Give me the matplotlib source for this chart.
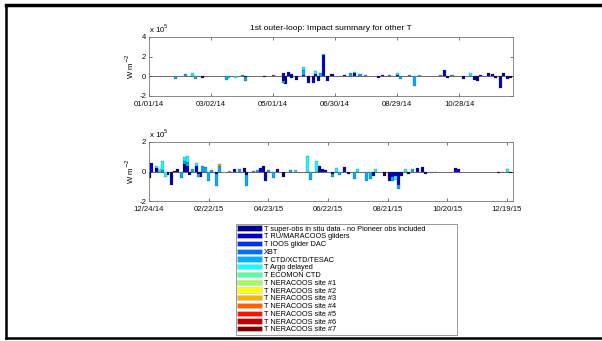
import numpy as np
import pandas as pd
import matplotlib
matplotlib.use("Agg")
import matplotlib.pyplot as plt
from matplotlib.patches import Patch
from matplotlib.lines import Line2D

plt.rcParams['font.family'] = ['Liberation Sans', 'DejaVu Sans']

# legend entries and their colours
categories = [
    "T super-obs in situ data - no Pioneer obs included",
    "T RU/MARACOOS gliders",
    "T IOOS glider DAC",
    "XBT",
    "T CTD/XCTD/TESAC",
    "T Argo delayed",
    "T ECOMON CTD",
    "T NERACOOS site #1",
    "T NERACOOS site #2",
    "T NERACOOS site #3",
    "T NERACOOS site #4",
    "T NERACOOS site #5",
    "T NERACOOS site #6",
    "T NERACOOS site #7",
]
colors = ["#000090", "#0000d0", "#0030ff", "#0070ff", "#00b0ff", "#10ffff",
          "#50ffa0", "#a0ff50", "#ffff00", "#ffb000", "#ff6000", "#ff1000",
          "#c00000", "#800000"]

SCALE = 1e5  # values below are in units of 1e5 W m-2

# ---- panel 1: 2014 (days since 01/01/14)
top_start = "2014-01-01"
top_ndays = 352
top_days = [26, 35, 42, 45, 52, 75, 77, 84, 90, 93, 112,
            120, 130, 132, 135, 138, 143, 149, 154, 159, 161, 164,
            166, 169, 173, 177, 189, 195, 199, 204, 209, 222, 226,
            233, 240, 243, 252, 257, 262, 282, 286, 289, 293, 304,
            311, 315, 318, 321, 328, 332, 335, 340, 343, 347, 350]
top_superobs = [0, 0, 0, 0, -0.15, 0, 0, 0, 0, -0.1, -0.1,
                0, -0.5, -0.8, 0, -0.2, -0.4, 0, -0.5, -0.4, 0, -0.3,
                0, 0, -0.3, 0.2, 0.1, 0, 0, 0, 0, 0, 0.1,
                0, 0.1, 0, 0, 0, 0, 0, 0.1, -0.2, 0, 0,
                0.05, -0.35, -0.45, 0, 0.35, 0, -0.2, -0.1, 0.3, 0, -0.2]
top_gliders = [0, 0, 0, 0, 0, 0, 0, 0, 0, 0, 0,
               0, 0.3, 0, 0.4, 0.2, 0, 0.1, -0.2, -0.3, 0.2, -0.2,
               0, 2.2, -0.2, 0, 0, 0, 0.3, 0, 0, -0.15, 0,
               0, 0, 0, 0, 0, 0, 0, 0.55, 0, 0, -0.3,
               0, 0, 0, 0.15, 0, 0.2, 0, -1.1, 0, -0.3, 0]
top_xbt = [0, 0, 0, 0, 0, 0, 0, 0, 0, 0, 0,
           0.1, 0, 0, 0, 0, 0, 0, 0, 0, 0, 0,
           0, 0, 0, 0, 0, 0, 0, 0, 0, 0, 0,
           0, 0, 0, 0, 0, 0, 0, 0, 0, 0, 0,
           0, 0, 0, 0, 0, 0, 0, 0, 0, 0, 0]
top_ctd = [-0.3, 0.2, 0, -0.3, 0, -0.35, -0.2, 0, 0.15, -0.4, 0,
           0, -0.2, 0, 0, 0, 0, 0.5, 0, 0, 0, 0,
           0.3, 0, 0, 0, 0, 0.3, 0, 0.2, 0.1, 0, 0,
           0.15, 0, -0.3, 0.1, -1.0, 0, 0.1, 0, 0, 0.1, 0,
           0, 0, 0, 0, 0, 0, 0, 0, 0, 0, 0]
top_argo = [0, 0, 0.3, 0, 0, 0, 0, -0.2, 0, 0, 0,
            0, 0, 0, 0, 0, 0, 0.35, 0, 0, 0.3, 0,
            0, 0.1, 0, 0, 0, 0, 0.15, 0, 0, 0, 0,
            0, 0.25, 0, 0, 0, 0.15, 0, 0, 0, 0, 0,
            0.3, 0, 0, 0, 0, 0, 0, 0, 0, 0, 0]

# ---- panel 2: 2015 (days since 12/24/14)
bot_start = "2014-12-24"
bot_ndays = 366
bot_days = [1, 3, 8, 11, 14, 17, 19, 23, 26, 29, 33, 36, 39,
            41, 44, 48, 50, 52, 54, 57, 60, 63, 68, 71, 76, 81,
            86, 91, 96, 98, 105, 109, 112, 115, 117, 120, 125, 129, 135,
            142, 147, 159, 162, 168, 171, 174, 177, 185, 189, 192, 197, 201,
            207, 210, 219, 223, 226, 228, 237, 242, 245, 248, 251, 254, 258,
            261, 265, 270, 275, 278, 284, 288, 308, 311, 351, 355, 360, 363]
bot_superobs = [-0.45, 0, 0.25, 0, 0, 0, -0.25, -0.5, 0.05, 0.2, 0, 0.5, 0,
                -0.25, 0, 0, -0.2, -0.35, 0, 0, 0, 0, -0.2, 0, 0, 0,
                0, 0, 0.25, -0.25, 0, 0, 0, 0.35, -0.2, 0, 0, 0, -0.35,
                0, 0, 0, 0, 0, 0.35, 0, 0.1, -0.15, 0, 0, 0, -0.2,
                0, 0, 0, 0, -0.3, 0, -0.3, -0.35, 0, -0.3, 0, -0.3, 0,
                -0.2, 0, 0, 0.3, -0.15, 0, 0, 0, 0, -0.1, -0.05, 0, -0.1]
bot_gliders = [0, 0.6, 0, 0, 0, 0, 0, -0.4, 0, 0, 0, 0, 0.35,
               0, 0, 0.4, 0, 0, 0, 0, 0, 0, 0, 0, 0, 0,
               0.2, 0, 0, 0, 0, 0, 0.25, 0, -0.45, 0, 0, 0.2, 0,
               0, 0, 0, 0, 0, 0, 0.2, 0, 0, 0, 0, 0.3, 0,
               0, 0, 0, 0, 0, 0, 0, -0.3, -0.4, 0, -0.9, 0, 0,
               0, 0, 0.25, 0, 0, 0, 0, 0.25, 0.2, 0, 0, 0, 0]
bot_ctd = [0, 0, 0, 0, 0.1, 0, 0, 0, 0, 0, -0.45, 0.2, 0.3,
           0, 0.15, 0, -0.2, 0, 0.35, 0.3, -0.65, 0.1, -0.75, 0.4, 0, 0,
           0, 0.2, 0, -0.7, 0.05, 0.1, 0, 0, 0, 0.1, -0.45, 0, 0,
           0.1, 0, 0, -0.55, 0, 0, 0, 0, -0.25, 0, -0.25, 0, 0,
           -0.5, 0, -0.65, -0.5, 0, 0, 0, 0, -0.25, 0, -0.3, 0, 0,
           0, 0.2, 0, 0, 0, -0.1, -0.05, 0, 0, 0, 0, 0, 0]
bot_argo = [0, 0, 0.15, 0.2, 0.6, -0.4, 0, 0, 0, 0, 0, 0.3, 0.4,
            0, 0, 0.2, 0, 0, 0, 0, 0, 0, 0, 0, -0.1, 0,
            0, 0, 0, 0, 0, 0, 0, 0, 0, 0, 0, 0, 0,
            0, 0.1, 1.05, 0, 0.7, 0, 0, 0, 0, 0.25, 0, 0, 0,
            0, 0.15, 0, 0, 0, 0.15, 0, 0, 0, -0.25, 0, 0, 0.2,
            0, 0, 0, 0, 0, 0, 0, 0, 0, 0, 0, 0.15, 0]
bot_site3 = [0, 0, 0, 0, 0, 0, 0, 0, 0, 0, 0, 0, 0,
             0, 0, 0, 0, 0, 0, 0, 0, 0, 0, 0.08, 0, 0.05,
             0, 0, 0, 0, 0, 0, 0, 0, 0, 0, 0, 0, 0,
             0, 0, 0, 0, 0, 0, 0, 0, 0, 0, 0, 0, 0,
             0, 0, 0, 0, 0, 0, 0, 0, 0, 0, 0, 0, 0,
             0, 0, 0, 0, 0, 0, 0, 0, 0, 0, 0, 0, 0]


def stacked_bars(ax, x, series, cols):
    pos = np.zeros(len(x))
    neg = np.zeros(len(x))
    for vals, c in zip(series, cols):
        v = np.asarray(vals, dtype=float) * SCALE
        m = v != 0
        bottom = np.where(v >= 0, pos, neg)
        ax.bar(x[m], v[m], width=3.0, bottom=bottom[m], color=c,
               edgecolor="#303030", linewidth=0.15, zorder=2)
        pos += np.clip(v, 0, None)
        neg += np.clip(v, None, 0)


def style_axis(ax, start, ndays, ylim, yticks):
    t0 = pd.Timestamp(start)
    ax.set_xlim(t0, t0 + pd.Timedelta(days=ndays))
    ticks = pd.date_range(t0, periods=ndays // 60 + 1, freq="60D")
    ax.set_xticks(ticks)
    ax.set_xticklabels([t.strftime("%m/%d/%y") for t in ticks])
    ax.set_ylim(ylim[0] * SCALE, ylim[1] * SCALE)
    ax.set_yticks([v * SCALE for v in yticks])
    ax.set_yticklabels([str(v) for v in yticks])
    ax.tick_params(direction="in", length=2.5, width=0.5, labelsize=5.6,
                   top=True, right=True, colors="#444444",
                   labelcolor="#111111")
    ax.tick_params(axis="x", pad=3.5)
    ax.tick_params(axis="y", pad=2)
    for s in ax.spines.values():
        s.set_linewidth(0.6)
        s.set_color("#777777")
    ax.axhline(0, color="#402828", linewidth=0.5, zorder=1)
    ax.set_ylabel(r"W m$^{-2}$", fontsize=5.6, labelpad=2)
    ax.text(0.0, 1.03, r"x 10$^5$", transform=ax.transAxes, fontsize=5.6,
            va="bottom", ha="left")


fig = plt.figure(figsize=(6.02, 3.41), dpi=100)
ax1 = fig.add_axes([149 / 602, 1 - 96 / 341, 364 / 602, 59 / 341])
ax2 = fig.add_axes([149 / 602, 1 - 201 / 341, 364 / 602, 59 / 341])

x1 = pd.Timestamp(top_start) + pd.to_timedelta(top_days, unit="D")
x1 = np.array(x1.to_pydatetime())
stacked_bars(ax1, x1,
             [top_superobs, top_gliders, top_xbt, top_ctd, top_argo],
             [colors[0], colors[1], colors[3], colors[4], colors[5]])
style_axis(ax1, top_start, top_ndays, (-2, 4), [-2, 0, 2, 4])
ax1.set_title("1st outer-loop: Impact summary for other T", fontsize=6.1, pad=5)

x2 = pd.Timestamp(bot_start) + pd.to_timedelta(bot_days, unit="D")
x2 = np.array(x2.to_pydatetime())
stacked_bars(ax2, x2,
             [bot_superobs, bot_gliders, bot_ctd, bot_argo, bot_site3],
             [colors[0], colors[1], colors[4], colors[5], colors[9]])
style_axis(ax2, bot_start, bot_ndays, (-2, 2), [-2, 0, 2])

handles = [Patch(facecolor=c, edgecolor="#d0d0d0", linewidth=0.4) for c in colors]
leg = fig.legend(handles, categories, loc="upper left",
                 bbox_to_anchor=(236 / 602, 1 - 333 / 341, 221 / 602, 109 / 341),
                 bbox_transform=fig.transFigure, mode="expand", fontsize=5.3,
                 handlelength=3.3, handleheight=0.7, handletextpad=0.25,
                 labelspacing=0.08, borderpad=0.2, borderaxespad=0,
                 fancybox=False, framealpha=1)
leg.get_frame().set_edgecolor("#888888")
leg.get_frame().set_linewidth(0.6)

# figure border
fig.add_artist(Line2D([6 / 602, 1], [1 - 5 / 341, 1 - 5 / 341], color="k",
                      linewidth=2.5, transform=fig.transFigure))
fig.add_artist(Line2D([6 / 602, 6 / 602], [1 - 5 / 341, 1 - 338 / 341],
                      color="k", linewidth=1.8, transform=fig.transFigure))
fig.add_artist(Line2D([6 / 602, 1], [1 - 338 / 341, 1 - 338 / 341], color="k",
                      linewidth=1.8, transform=fig.transFigure))

fig.savefig("out.png", dpi=100)
